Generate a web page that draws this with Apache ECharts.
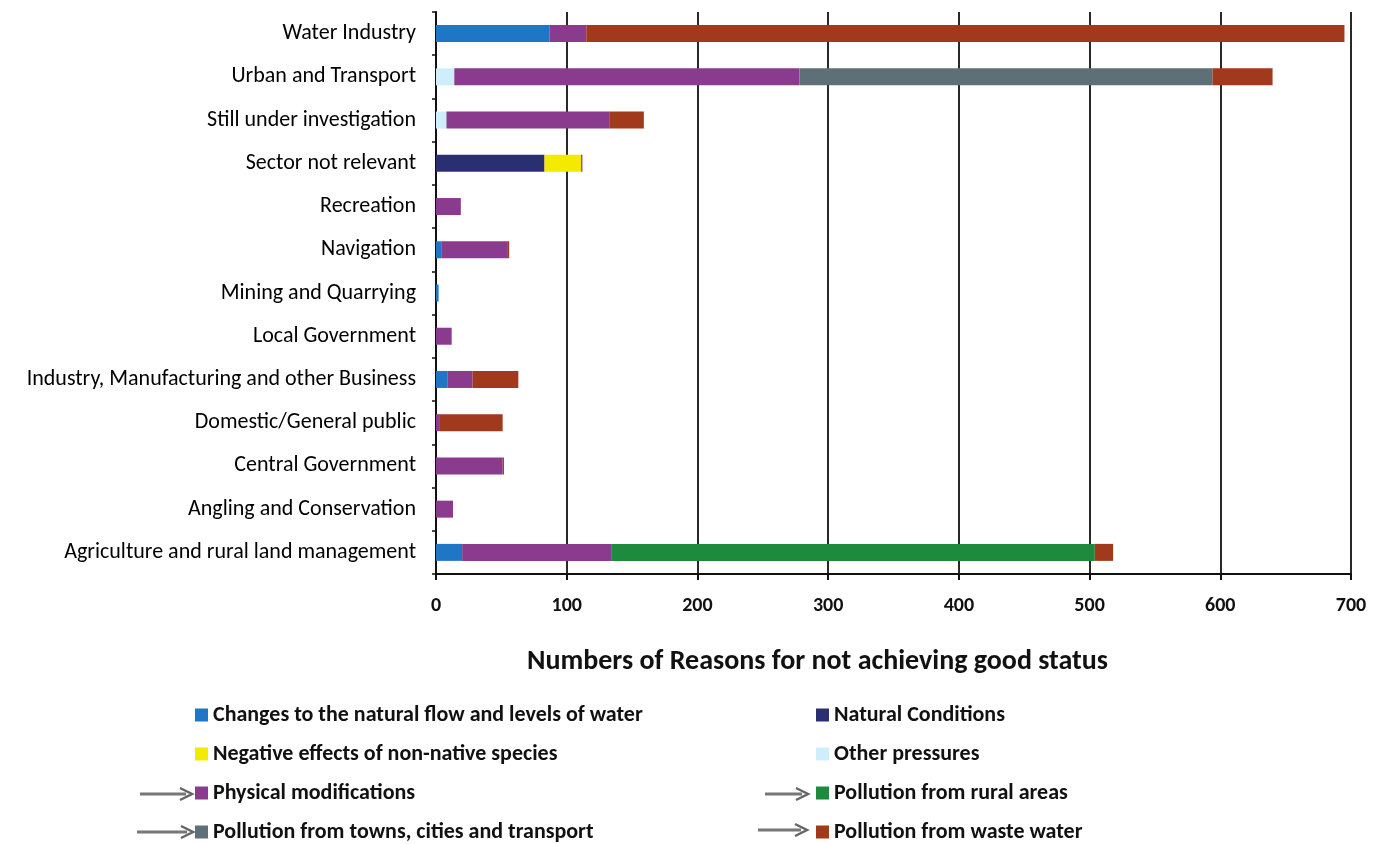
<!DOCTYPE html>
<html>
<head>
<meta charset="utf-8">
<script src="https://cdn.jsdelivr.net/npm/echarts@6/dist/echarts.min.js"></script>
<style>
html,body{margin:0;padding:0;background:#fff;}
#chart{width:1392px;height:844px;}
</style>
</head>
<body>
<div id="chart"></div>
<script>
var categories = ["Water Industry","Urban and Transport","Still under investigation","Sector not relevant","Recreation","Navigation","Mining and Quarrying","Local Government","Industry, Manufacturing and other Business","Domestic/General public","Central Government","Angling and Conservation","Agriculture and rural land management"];
var xTicks = [0,100,200,300,400,500,600,700];
var seriesNames = ["Changes to the natural flow and levels of water","Natural Conditions","Negative effects of non-native species","Other pressures","Physical modifications","Pollution from rural areas","Pollution from towns, cities and transport","Pollution from waste water"];
var changesFlow   = [87, 0, 0, 0, 0, 4, 2, 0, 9, 0, 0, 0, 20];
var naturalCond   = [0, 0, 0, 83, 0, 0, 0, 0, 0, 0, 0, 0, 0];
var nonNative     = [0, 0, 0, 28, 0, 0, 0, 0, 0, 0, 0, 0, 0];
var otherPress    = [0, 14, 8, 0, 0, 0, 0, 0, 0, 0, 0, 0, 0];
var physicalMod   = [28, 264, 125, 1, 19, 51, 0, 12, 19, 3, 51, 13, 114];
var ruralPoll     = [0, 0, 0, 0, 0, 0, 0, 0, 0, 0, 0, 0, 370];
var townsPoll     = [0, 316, 0, 0, 0, 0, 0, 0, 0, 0, 0, 0, 0];
var wastePoll     = [580, 46, 26, 0, 0, 1, 0, 0, 35, 48, 1, 0, 14];

var values = [changesFlow, naturalCond, nonNative, otherPress, physicalMod, ruralPoll, townsPoll, wastePoll];
var colors = ["#1f76c6","#2a2f72","#f4ea00","#cdeefa","#8b3b8d","#1d8a3e","#5e6f77","#a1391d"];

var FONT = "Carlito, Lato, 'Open Sans', sans-serif";

var series = seriesNames.map(function(n, i){
  return {
    name: n, type: 'bar', stack: 'total', barWidth: 17,
    itemStyle: {color: colors[i]},
    data: values[i]
  };
});

function arrow(x1, x2, y){
  return {
    type: 'group', silent: true,
    children: [
      {type:'line', shape:{x1:x1, y1:y, x2:x2-6, y2:y}, style:{stroke:'#777', lineWidth:3}},
      {type:'polyline', shape:{points:[[x2-12,y-6],[x2,y],[x2-12,y+6]]}, style:{stroke:'#666', lineWidth:2.5, fill:null}}
    ]
  };
}

var legendText = {fontFamily: FONT, fontSize: 22, fontWeight: 'bold', color: '#111', lineHeight: 22};

var chart = echarts.init(document.getElementById('chart'));
chart.setOption({
  animation: false,
  backgroundColor: '#fff',
  grid: {left: 436, right: 41, top: 12, height: 562},
  title: {
    text: 'Numbers of Reasons for not achieving good status',
    left: 527, top: 648, padding: 0,
    textStyle: {fontFamily: FONT, fontSize: 28, fontWeight: 'bold', color: '#111'}
  },
  legend: [
    {
      data: [seriesNames[0], seriesNames[2], seriesNames[4], seriesNames[6]],
      orient: 'vertical', left: 195, top: 704, padding: 0,
      icon: 'rect', itemWidth: 13, itemHeight: 13, itemGap: 17,
      textStyle: legendText,
      selectedMode: false
    },
    {
      data: [seriesNames[1], seriesNames[3], seriesNames[5], seriesNames[7]],
      orient: 'vertical', left: 816, top: 704, padding: 0,
      icon: 'rect', itemWidth: 13, itemHeight: 13, itemGap: 17,
      textStyle: legendText,
      selectedMode: false
    }
  ],
  xAxis: {
    type: 'value', min: xTicks[0], max: xTicks[xTicks.length-1], interval: 100,
    axisLine: {show: true, lineStyle: {color: '#111', width: 2}},
    axisTick: {show: true, length: 6, lineStyle: {color: '#111', width: 2}},
    splitLine: {show: true, lineStyle: {color: '#111', width: 1.8}},
    axisLabel: {fontFamily: FONT, fontSize: 20, fontWeight: 'bold', color: '#111', margin: 22}
  },
  yAxis: {
    type: 'category', data: categories, inverse: true,
    axisLine: {show: true, lineStyle: {color: '#111', width: 2}},
    axisTick: {show: true, length: 4, lineStyle: {color: '#111', width: 1.5}},
    axisLabel: {fontFamily: FONT, fontSize: 22, color: '#000', margin: 20}
  },
  graphic: [
    arrow(140, 192, 794),
    arrow(137, 193, 832),
    arrow(765, 808, 794),
    arrow(758, 807, 830)
  ],
  series: series
});
</script>
</body>
</html>
